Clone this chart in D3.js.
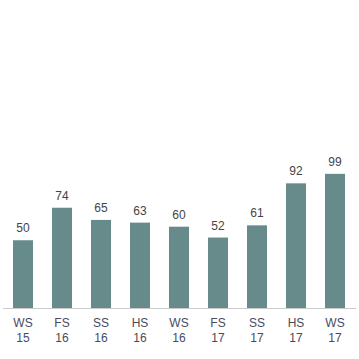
<!DOCTYPE html>
<html><head><meta charset="utf-8">
<script src="https://cdn.jsdelivr.net/npm/d3@7"></script>
<style>body{margin:0;background:#fff}svg{display:block}</style>
</head><body>
<script>
const terms = ["WS", "FS", "SS", "HS", "WS", "FS", "SS", "HS", "WS"];
const years = ["15", "16", "16", "16", "16", "17", "17", "17", "17"];
const values = [50, 74, 65, 63, 60, 52, 61, 92, 99];

const W = 359, H = 359;
const svg = d3.select("body").append("svg").attr("width", W).attr("height", H);
const idx = d3.range(values.length);
const x = d3.scaleBand().domain(idx).range([3.5, 354.5]).paddingInner(0.487).paddingOuter(0.2435);
const y = d3.scaleLinear().domain([0, 100]).range([308, 172.5]);

svg.selectAll("rect.bar").data(idx).enter().append("rect")
  .attr("x", i => x(i)).attr("width", x.bandwidth())
  .attr("y", i => y(values[i])).attr("height", i => y(0) - y(values[i]))
  .attr("fill", "#678a8b");

svg.selectAll("text.val").data(idx).enter().append("text")
  .attr("x", i => x(i) + x.bandwidth() / 2).attr("y", i => y(values[i]) - 8)
  .attr("text-anchor", "middle").attr("font-family", "Liberation Sans, Arial, sans-serif")
  .attr("font-size", 12).attr("fill", "#444")
  .text(i => values[i]);

const xAxis = d3.axisBottom(x).tickSize(0).tickFormat(() => "");
const g = svg.append("g").attr("transform", "translate(0,308)").call(xAxis);
g.select(".domain").attr("stroke", "#ccc").attr("d", "M3,0.5H356");

const lab = svg.selectAll("text.lab").data(idx).enter().append("text")
  .attr("text-anchor", "middle").attr("font-family", "Liberation Sans, Arial, sans-serif")
  .attr("font-size", 12).attr("fill", "#4a4a60");
lab.append("tspan").attr("x", i => x(i) + x.bandwidth() / 2).attr("y", 327).text(i => terms[i]);
lab.append("tspan").attr("x", i => x(i) + x.bandwidth() / 2).attr("y", 342).text(i => years[i]);
</script>
</body></html>
